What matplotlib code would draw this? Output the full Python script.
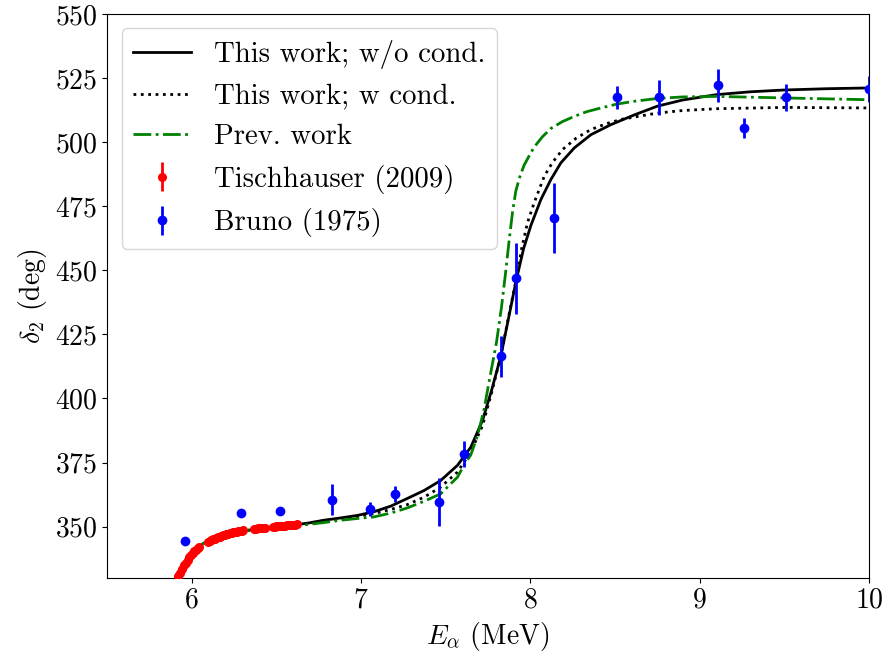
import matplotlib
matplotlib.use("Agg")
import matplotlib.pyplot as plt

plt.rcParams['mathtext.fontset'] = 'cm'
plt.rcParams['font.family'] = 'serif'
plt.rcParams['font.serif'] = ['cmr10', 'DejaVu Serif']
plt.rcParams['axes.formatter.use_mathtext'] = True
plt.rcParams['font.size'] = 20

# Theory curves
black_x = [5.88, 5.90, 5.92, 5.95, 5.98, 6.01, 6.04, 6.07, 6.10, 6.16, 6.23, 6.30, 6.38, 6.45,
           6.52, 6.60, 6.68, 6.78, 6.88, 6.98, 7.08, 7.175, 7.273, 7.372, 7.47, 7.569, 7.648,
           7.717, 7.77, 7.825, 7.87, 7.916, 7.96, 8.003, 8.062, 8.121, 8.18, 8.259, 8.358,
           8.476, 8.614, 8.75, 8.90, 9.10, 9.30, 9.50, 9.75, 10.0]
black_y = [322.0, 327.0, 331.0, 334.5, 337.5, 340.2, 342.1, 343.5, 344.4, 346.0, 347.3, 348.3,
           349.0, 349.6, 350.1, 350.7, 351.3, 352.5, 353.4, 354.4, 355.9, 358.0, 361.0, 364.1,
           368.0, 373.9, 381.0, 391.4, 403.0, 416.4, 431.0, 446.0, 458.5, 467.5, 477.6, 485.4,
           491.9, 497.7, 502.9, 506.8, 510.6, 514.0, 516.4, 518.5, 519.6, 520.3, 520.8, 521.1]

dot_x = [5.88, 5.90, 5.92, 5.95, 5.98, 6.01, 6.04, 6.07, 6.10, 6.16, 6.23, 6.30, 6.38, 6.45,
         6.52, 6.60, 6.68, 6.78, 6.88, 6.98, 7.076, 7.175, 7.273, 7.372, 7.47, 7.569, 7.648,
         7.717, 7.77, 7.825, 7.87, 7.918, 7.95, 7.983, 8.022, 8.082, 8.13, 8.19, 8.27, 8.358,
         8.45, 8.535, 8.634, 8.75, 8.90, 9.10, 9.50, 10.0]
dot_y = [322.0, 327.0, 331.0, 334.5, 337.5, 340.2, 342.1, 343.5, 344.4, 346.0, 347.3, 348.3,
         349.0, 349.6, 350.1, 350.7, 351.3, 352.3, 353.1, 354.0, 355.1, 356.7, 358.6, 361.5,
         365.4, 371.3, 379.1, 389.4, 402.0, 416.5, 431.5, 447.0, 459.0, 468.6, 476.3, 486.7,
         492.0, 497.1, 501.5, 504.9, 507.2, 508.8, 510.0, 511.3, 512.3, 513.0, 513.5, 513.3]

prev_x = [5.88, 5.90, 5.92, 5.95, 5.98, 6.01, 6.04, 6.07, 6.10, 6.16, 6.23, 6.30, 6.38, 6.45,
          6.52, 6.60, 6.68, 6.78, 6.879, 6.98, 7.076, 7.175, 7.273, 7.372, 7.47, 7.569, 7.608,
          7.648, 7.69, 7.727, 7.76, 7.80, 7.83, 7.855, 7.875, 7.895, 7.914, 7.94, 7.963, 8.0,
          8.022, 8.07, 8.121, 8.19, 8.259, 8.33, 8.417, 8.51, 8.614, 8.75, 8.90, 9.10, 9.50,
          10.0]
prev_y = [322.0, 327.0, 331.0, 334.5, 337.5, 340.2, 342.1, 343.5, 344.4, 346.0, 347.3, 348.3,
          349.0, 349.6, 350.1, 350.5, 350.8, 351.6, 352.5, 353.2, 353.8, 355.3, 357.3, 359.9,
          362.8, 369.3, 374.0, 378.0, 386.0, 396.0, 408.0, 422.0, 436.0, 450.0, 462.0, 473.0,
          481.0, 487.0, 491.0, 495.5, 498.0, 502.0, 505.3, 508.0, 510.0, 511.8, 513.3, 514.8,
          515.9, 517.0, 517.6, 517.8, 517.2, 516.5]

# Tischhauser (2009)
tis_x = [5.92, 5.93, 5.94, 5.955, 5.965, 5.975, 5.985, 5.995, 6.005, 6.015, 6.025, 6.035,
         6.045, 6.095, 6.105, 6.115, 6.125, 6.135, 6.145, 6.155, 6.165, 6.175, 6.185, 6.195,
         6.205, 6.215, 6.225, 6.235, 6.245, 6.255, 6.265, 6.275, 6.285, 6.295, 6.305, 6.37,
         6.38, 6.39, 6.40, 6.41, 6.42, 6.43, 6.48, 6.49, 6.50, 6.51, 6.52, 6.53, 6.54, 6.55,
         6.56, 6.57, 6.58, 6.59, 6.60, 6.61, 6.62]
tis_y = [330.8, 332.0, 333.3, 335.0, 336.0, 337.0, 338.0, 338.9, 339.7, 340.4, 341.0, 341.6,
         342.1, 344.1, 344.4, 344.7, 345.0, 345.3, 345.6, 345.9, 346.1, 346.4, 346.6, 346.8,
         347.0, 347.2, 347.4, 347.6, 347.8, 347.9, 348.1, 348.2, 348.4, 348.5, 348.6, 349.1,
         349.2, 349.3, 349.4, 349.5, 349.6, 349.6, 349.9, 350.0, 350.1, 350.2, 350.2, 350.3,
         350.4, 350.4, 350.5, 350.6, 350.6, 350.7, 350.8, 350.8, 350.9]
tis_err = [0.3] * len(tis_x)

# Bruno (1975)
bru_x = [5.96, 6.29, 6.52, 6.83, 7.05, 7.20, 7.46, 7.61, 7.825, 7.915, 8.14, 8.51, 8.76,
         9.11, 9.26, 9.51, 10.0]
bru_y = [344.5, 355.4, 356.0, 360.5, 357.0, 362.8, 359.6, 378.4, 416.4, 446.8, 470.4, 517.4,
         517.4, 522.1, 505.4, 517.4, 520.7]
bru_err = [0.5, 0.5, 0.5, 6.0, 2.7, 3.2, 9.5, 5.2, 8.1, 13.7, 13.5, 4.5, 6.8, 6.3, 4.0, 5.2,
           5.2]

fig = plt.figure(figsize=(8.85, 6.59), dpi=100)
ax = fig.add_axes([0.121, 0.123, 0.861, 0.856])

ax.plot(black_x, black_y, color='black', lw=2, ls='-', label='This work; w/o cond.')
ax.plot(dot_x, dot_y, color='black', lw=2, ls=':', label='This work; w cond.')
ax.plot(prev_x, prev_y, color='green', lw=2, ls='-.', label='Prev. work')
ax.errorbar(tis_x, tis_y, yerr=tis_err, fmt='o', color='red', ms=5.5, elinewidth=2,
            label='Tischhauser (2009)', zorder=3)
ax.errorbar(bru_x, bru_y, yerr=bru_err, fmt='o', color='blue', ms=6, elinewidth=2,
            label='Bruno (1975)', zorder=3)

ax.set_xlim(5.5, 10)
ax.set_ylim(330, 550)
ax.set_xticks([6, 7, 8, 9, 10])
ax.set_yticks([350, 375, 400, 425, 450, 475, 500, 525, 550])
ax.set_xlabel(r'$E_\alpha$ (MeV)')
ax.set_ylabel(r'$\delta_2$ (deg)')
ax.legend(loc='upper left', fontsize=20.8)

fig.savefig('out.png', dpi=100)
